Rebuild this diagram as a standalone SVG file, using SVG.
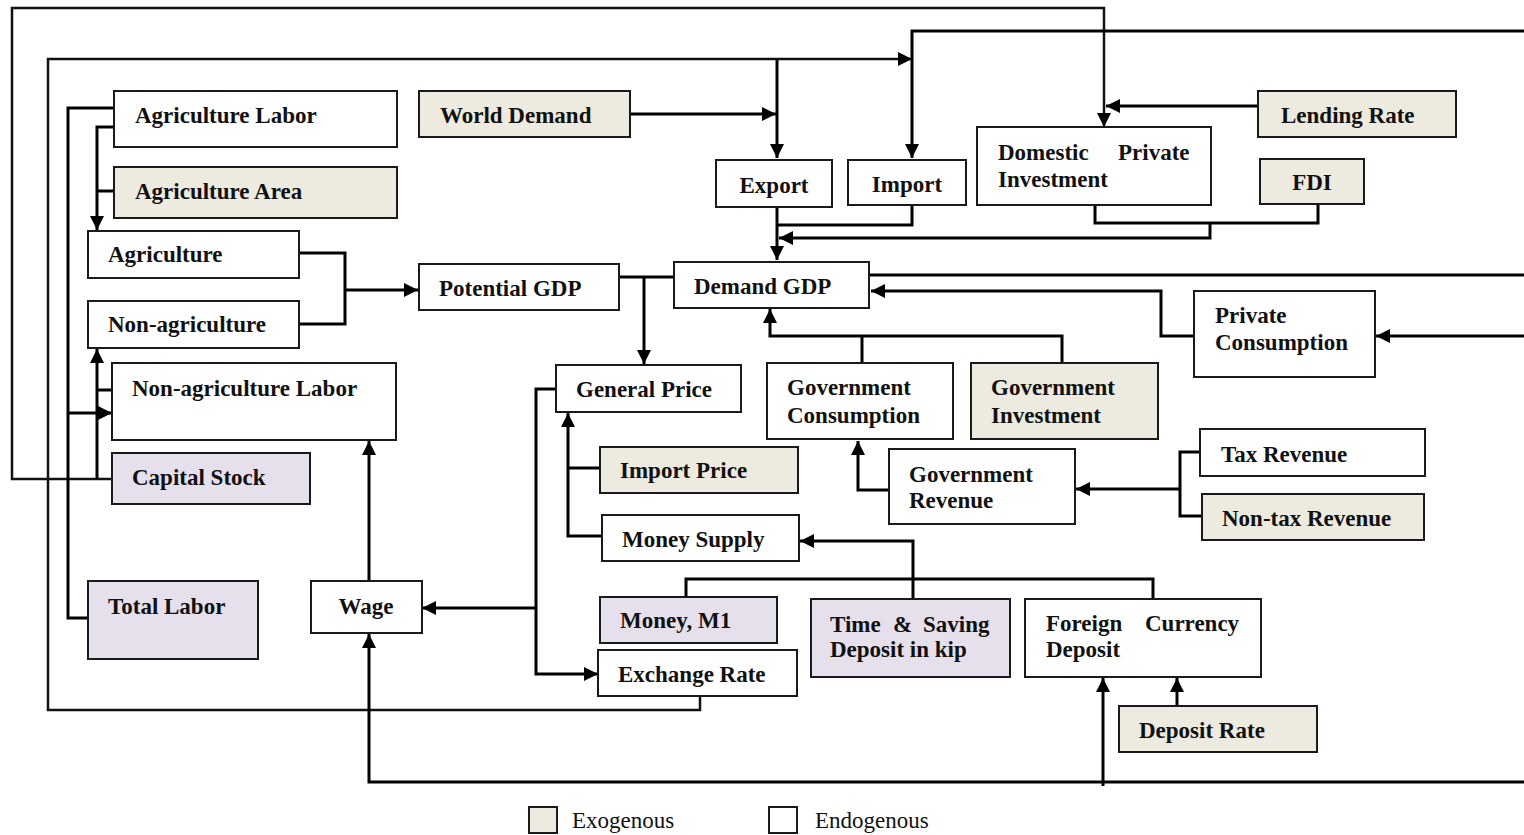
<svg xmlns="http://www.w3.org/2000/svg" width="1524" height="835" viewBox="0 0 1524 835">
<style>
.b{stroke:#1a1a1a;stroke-width:2}
.en{fill:#ffffff}
.ex{fill:#EDEAE0}
.lv{fill:#E5E0EB}
.t{font-family:"Liberation Serif","Times New Roman",serif;font-weight:bold;font-size:23px;fill:#111}
.lg{font-family:"Liberation Serif","Times New Roman",serif;font-size:23px;fill:#111}
.c{fill:none;stroke:#000;stroke-width:3}
.c2{fill:none;stroke:#111;stroke-width:2.5}
</style>
<defs>
<marker id="ah" markerUnits="userSpaceOnUse" markerWidth="14" markerHeight="14" viewBox="0 0 13 13" refX="13" refY="6.5" orient="auto">
<path d="M0,0 L13,6.5 L0,13 z" fill="#000"/>
</marker>
</defs>
<rect width="1524" height="835" fill="#fff"/>

<g id="connectors">
<path class="c2" d="M112,479 H12 V8 H1104 V127" marker-end="url(#ah)"/>
<path class="c2" d="M700,696 V710 H48 V59 H912" marker-end="url(#ah)"/>
<path class="c" d="M777,59 V158" marker-end="url(#ah)"/>
<path class="c" d="M1524,31 H912 V158" marker-end="url(#ah)"/>
<path class="c" d="M630,114 H776" marker-end="url(#ah)"/>
<path class="c" d="M1258,106 H1106" marker-end="url(#ah)"/>
<path class="c" d="M777,207 V260" marker-end="url(#ah)"/>
<path class="c" d="M912,205 V225 H777"/>
<path class="c" d="M1095,205 V223 H1318 V204"/>
<path class="c" d="M1210,223 V238 H779" marker-end="url(#ah)"/>
<path class="c" d="M299,253 H345 V324 H299"/>
<path class="c" d="M345,290 H418" marker-end="url(#ah)"/>
<path class="c" d="M619,277 H674"/>
<path class="c" d="M644,277 V364" marker-end="url(#ah)"/>
<path class="c" d="M869,275 H1524"/>
<path class="c" d="M1194,336 H1161 V291 H871" marker-end="url(#ah)"/>
<path class="c" d="M1524,336 H1376" marker-end="url(#ah)"/>
<path class="c" d="M1062,363 V336 H770 V309" marker-end="url(#ah)"/>
<path class="c" d="M862,363 V336"/>
<path class="c" d="M889,490 H858 V441" marker-end="url(#ah)"/>
<path class="c" d="M1200,452 H1180 V516 H1202"/>
<path class="c" d="M1180,489 H1076" marker-end="url(#ah)"/>
<path class="c" d="M600,468 H568"/>
<path class="c" d="M602,536 H568 V413" marker-end="url(#ah)"/>
<path class="c" d="M555,389 H536 V674 H598" marker-end="url(#ah)"/>
<path class="c" d="M536,608 H422" marker-end="url(#ah)"/>
<path class="c" d="M913,598 V541 H800" marker-end="url(#ah)"/>
<path class="c" d="M686,596 V579 H1153 V598"/>
<path class="c" d="M369,581 V441" marker-end="url(#ah)"/>
<path class="c" d="M1524,782 H369 V634" marker-end="url(#ah)"/>
<path class="c" d="M1103,786 V678" marker-end="url(#ah)"/>
<path class="c" d="M1177,706 V678" marker-end="url(#ah)"/>
<path class="c" d="M114,108 H68 V618 H88"/>
<path class="c" d="M114,127 H97 V230" marker-end="url(#ah)"/>
<path class="c" d="M97,191 H114"/>
<path class="c" d="M97,479 V349" marker-end="url(#ah)"/>
<path class="c" d="M97,390 H112"/>
<path class="c" d="M68,413 H112" marker-end="url(#ah)"/>
</g>

<g id="agriculture-labor"><rect class="b en" x="114" y="91" width="283" height="56"/><text class="t" x="135" y="123">Agriculture Labor</text></g>
<g id="agriculture-area"><rect class="b ex" x="114" y="167" width="283" height="51"/><text class="t" x="135" y="199">Agriculture Area</text></g>
<g id="agriculture"><rect class="b en" x="88" y="231" width="211" height="47"/><text class="t" x="108" y="262">Agriculture</text></g>
<g id="non-agriculture"><rect class="b en" x="88" y="301" width="211" height="47"/><text class="t" x="108" y="332">Non-agriculture</text></g>
<g id="non-agriculture-labor"><rect class="b en" x="112" y="363" width="284" height="77"/><text class="t" x="132" y="396">Non-agriculture Labor</text></g>
<g id="capital-stock"><rect class="b lv" x="112" y="453" width="198" height="51"/><text class="t" x="132" y="485">Capital Stock</text></g>
<g id="total-labor"><rect class="b lv" x="88" y="581" width="170" height="78"/><text class="t" x="108" y="614">Total Labor</text></g>
<g id="wage"><rect class="b en" x="311" y="581" width="111" height="52"/><text class="t" x="366" y="614" text-anchor="middle">Wage</text></g>
<g id="world-demand"><rect class="b ex" x="419" y="91" width="211" height="46"/><text class="t" x="440" y="123">World Demand</text></g>
<g id="export"><rect class="b en" x="716" y="160" width="116" height="47"/><text class="t" x="774" y="193" text-anchor="middle">Export</text></g>
<g id="import"><rect class="b en" x="848" y="160" width="118" height="45"/><text class="t" x="907" y="192" text-anchor="middle">Import</text></g>
<g id="domestic-private-investment"><rect class="b en" x="977" y="127" width="234" height="78"/><text class="t" y="160"><tspan x="998">Domestic</tspan><tspan x="1118">Private</tspan></text><text class="t" x="998" y="187">Investment</text></g>
<g id="lending-rate"><rect class="b ex" x="1258" y="91" width="198" height="46"/><text class="t" x="1281" y="123">Lending Rate</text></g>
<g id="fdi"><rect class="b ex" x="1260" y="159" width="104" height="45"/><text class="t" x="1312" y="190" text-anchor="middle">FDI</text></g>
<g id="potential-gdp"><rect class="b en" x="419" y="264" width="200" height="46"/><text class="t" x="439" y="296">Potential GDP</text></g>
<g id="demand-gdp"><rect class="b en" x="674" y="262" width="195" height="46"/><text class="t" x="694" y="294">Demand GDP</text></g>
<g id="private-consumption"><rect class="b en" x="1194" y="291" width="181" height="86"/><text class="t" x="1215" y="323">Private</text><text class="t" x="1215" y="350">Consumption</text></g>
<g id="general-price"><rect class="b en" x="556" y="365" width="185" height="47"/><text class="t" x="576" y="397">General Price</text></g>
<g id="government-consumption"><rect class="b en" x="767" y="363" width="186" height="76"/><text class="t" x="787" y="395">Government</text><text class="t" x="787" y="423">Consumption</text></g>
<g id="government-investment"><rect class="b ex" x="971" y="363" width="187" height="76"/><text class="t" x="991" y="395">Government</text><text class="t" x="991" y="423">Investment</text></g>
<g id="import-price"><rect class="b ex" x="600" y="447" width="198" height="46"/><text class="t" x="620" y="478">Import Price</text></g>
<g id="government-revenue"><rect class="b en" x="889" y="449" width="186" height="75"/><text class="t" x="909" y="482">Government</text><text class="t" x="909" y="508">Revenue</text></g>
<g id="tax-revenue"><rect class="b en" x="1200" y="429" width="225" height="47"/><text class="t" x="1221" y="462">Tax Revenue</text></g>
<g id="non-tax-revenue"><rect class="b ex" x="1202" y="494" width="222" height="46"/><text class="t" x="1222" y="526">Non-tax Revenue</text></g>
<g id="money-supply"><rect class="b en" x="602" y="515" width="197" height="46"/><text class="t" x="622" y="547">Money Supply</text></g>
<g id="money-m1"><rect class="b lv" x="600" y="597" width="177" height="46"/><text class="t" x="620" y="628">Money, M1</text></g>
<g id="exchange-rate"><rect class="b en" x="598" y="650" width="199" height="46"/><text class="t" x="618" y="682">Exchange Rate</text></g>
<g id="time-saving-deposit"><rect class="b lv" x="811" y="599" width="199" height="78"/><text class="t" y="632"><tspan x="830">Time</tspan><tspan x="893">&amp;</tspan><tspan x="923">Saving</tspan></text><text class="t" x="830" y="657">Deposit in kip</text></g>
<g id="foreign-currency-deposit"><rect class="b en" x="1025" y="599" width="236" height="78"/><text class="t" y="631"><tspan x="1046">Foreign</tspan><tspan x="1145">Currency</tspan></text><text class="t" x="1046" y="657">Deposit</text></g>
<g id="deposit-rate"><rect class="b ex" x="1119" y="706" width="198" height="46"/><text class="t" x="1139" y="738">Deposit Rate</text></g>

<g id="legend">
<rect class="b ex" x="529" y="807" width="28" height="26"/><text class="lg" x="572" y="828">Exogenous</text>
<rect class="b en" x="769" y="807" width="28" height="26"/><text class="lg" x="815" y="828">Endogenous</text>
</g>
</svg>
